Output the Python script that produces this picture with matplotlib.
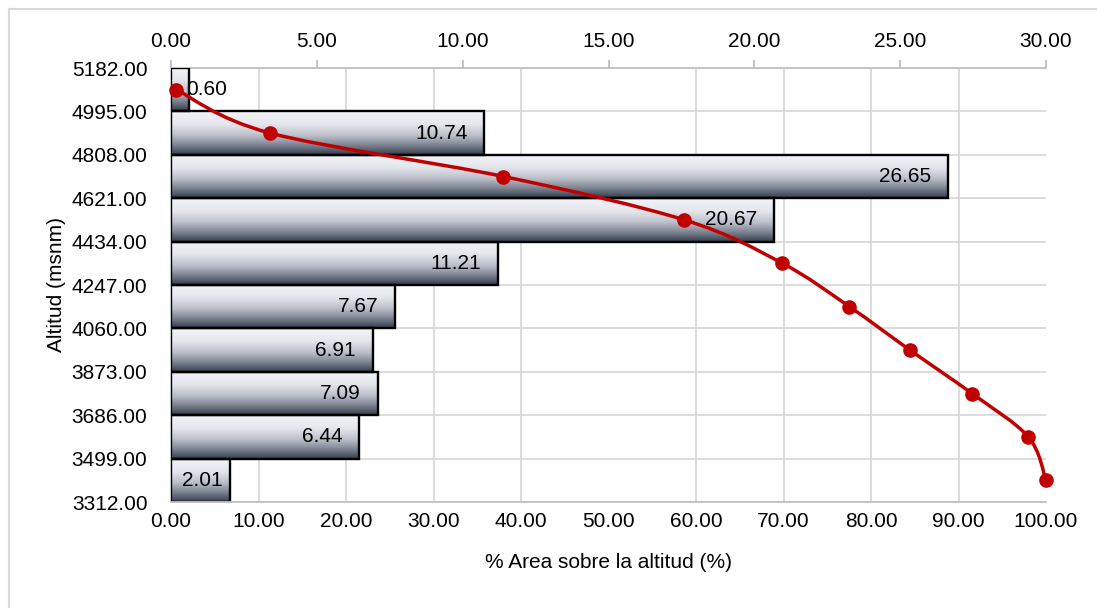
import numpy as np
import matplotlib
matplotlib.use('Agg')
import matplotlib.pyplot as plt
from matplotlib.colors import LinearSegmentedColormap
from matplotlib.path import Path
from matplotlib.patches import PathPatch
from matplotlib.lines import Line2D
from matplotlib.ticker import MultipleLocator, FormatStrFormatter

plt.rcParams['font.family'] = ['Liberation Sans', 'DejaVu Sans']

# altitude class edges (msnm), top to bottom
alt_edges = [5182, 4995, 4808, 4621, 4434, 4247, 4060, 3873, 3686, 3499, 3312]
# % of area in each altitude class
area_pct = [0.60, 10.74, 26.65, 20.67, 11.21, 7.67, 6.91, 7.09, 6.44, 2.01]
# % of area above each class (hypsometric curve)
area_cum = [0.60, 11.34, 37.99, 58.66, 69.87, 77.54, 84.45, 91.54, 97.98, 100.00]

x_pct_ticks = np.arange(0, 31, 5)
x_cum_ticks = np.arange(0, 101, 10)

lo = np.array(alt_edges[1:], dtype=float)
hi = np.array(alt_edges[:-1], dtype=float)
mid = (lo + hi) / 2

W, H = 1097, 608
FS = 15
fig = plt.figure(figsize=(W / 100, H / 100), dpi=100)
ax = fig.add_axes([171 / W, 1 - 502 / H, 875 / W, 434 / H])
ax2 = ax.twiny()

grey = '#bfbfbf'
grid = '#d9d9d9'

# bars on the top (0-30) axis, filled with a vertical steel gradient
cmap = LinearSegmentedColormap.from_list('steel', [
    (0.0, '#f4f5f9'), (0.3, '#e4e6ec'), (0.55, '#bcc0c9'),
    (0.75, '#858b98'), (0.9, '#545c6b'), (1.0, '#343c4a')])
grad = np.linspace(0, 1, 256).reshape(-1, 1)

bars = ax.barh(mid, area_pct, height=hi - lo, left=0, facecolor='none',
               edgecolor='black', linewidth=1.7, zorder=3)
for rect, v, y0, y1 in zip(bars, area_pct, lo, hi):
    im = ax.imshow(grad, cmap=cmap, aspect='auto', extent=[0, v, y0, y1],
                   origin='upper', zorder=2, interpolation='bilinear')
    im.set_clip_path(rect)
ax.set_xlim(0, 30)
ax.set_ylim(alt_edges[-1], alt_edges[0])
ax.set_axisbelow(True)

for v, y in zip(area_pct, mid):
    if v < 1:
        ax.annotate(f'{v:.2f}', (v, y), xytext=(-2, 0), textcoords='offset points',
                    ha='left', va='center', fontsize=FS, zorder=6)
    elif v < 3:
        ax.annotate(f'{v:.2f}', (v, y), xytext=(-5, 0), textcoords='offset points',
                    ha='right', va='center', fontsize=FS, zorder=6)
    else:
        ax.annotate(f'{v:.2f}', (v, y), xytext=(-12, 0), textcoords='offset points',
                    ha='right', va='center', fontsize=FS, zorder=6)

ax.xaxis.tick_top()
ax.set_xticks(x_pct_ticks)
ax.xaxis.set_major_formatter(FormatStrFormatter('%.2f'))
ax.xaxis.set_minor_locator(MultipleLocator(3))
ax.tick_params(axis='x', which='major', direction='out', length=6, color=grey,
               width=1.3, labelsize=FS, pad=6, top=True, bottom=False,
               labeltop=True, labelbottom=False)
ax.tick_params(axis='x', which='minor', length=0, top=False, bottom=False)
ax.grid(axis='x', which='minor', color=grid, linewidth=1.3)
ax.grid(axis='x', which='major', visible=False)

ax.set_yticks(alt_edges)
ax.yaxis.set_major_formatter(FormatStrFormatter('%.2f'))
ax.tick_params(axis='y', length=0, labelsize=FS, pad=17)
ax.grid(axis='y', color=grid, linewidth=1.3)
ax.set_ylabel('Altitud (msnm)', fontsize=FS, labelpad=4)

for s in ['right', 'bottom']:
    ax.spines[s].set_visible(False)
for s in ['top', 'left']:
    ax.spines[s].set_color(grey)
    ax.spines[s].set_linewidth(1.3)

# hypsometric curve on the bottom (0-100) axis
ax2.set_xlim(0, 100)
ax2.set_ylim(alt_edges[-1], alt_edges[0])
ax2.patch.set_visible(False)
ax2.xaxis.tick_bottom()
ax2.xaxis.set_label_position('bottom')
ax2.set_xticks(x_cum_ticks)
ax2.xaxis.set_major_formatter(FormatStrFormatter('%.2f'))
ax2.tick_params(axis='x', length=0, labelsize=FS, pad=7, top=False,
                labeltop=False, bottom=True, labelbottom=True)
ax2.set_xlabel('% Area sobre la altitud (%)', fontsize=FS, labelpad=16)
for s in ['top', 'right', 'left']:
    ax2.spines[s].set_visible(False)
ax2.spines['bottom'].set_color(grey)
ax2.spines['bottom'].set_linewidth(1.3)

# smoothed line: Catmull-Rom segments as cubic Beziers, built in pixel space
px = np.array(area_cum) / 100 * 875
py = (np.array(mid) - alt_edges[-1]) / (alt_edges[0] - alt_edges[-1]) * 434
pts = np.column_stack([px, py])
ext = np.vstack([pts[0], pts, pts[-1]])
verts = [pts[0]]
codes = [Path.MOVETO]
for i in range(len(pts) - 1):
    p0, p1, p2, p3 = ext[i], ext[i + 1], ext[i + 2], ext[i + 3]
    c1 = p1 + (p2 - p0) / 6
    c2 = p2 - (p3 - p1) / 6
    verts += [c1, c2, p2]
    codes += [Path.CURVE4] * 3
verts = np.array(verts)
verts[:, 0] = verts[:, 0] / 875 * 100
verts[:, 1] = verts[:, 1] / 434 * (alt_edges[0] - alt_edges[-1]) + alt_edges[-1]
ax2.add_patch(PathPatch(Path(verts, codes), facecolor='none', edgecolor='#c00000',
                        linewidth=2.5, zorder=4, capstyle='round'))
ax2.plot(area_cum, mid, linestyle='none', marker='o', markersize=9.5,
         color='#c00000', zorder=5, clip_on=False)

# chart-area frame
fig.add_artist(Line2D([8.5 / W, 8.5 / W], [0, 1 - 8.5 / H], color=grid, lw=1.5))
fig.add_artist(Line2D([8.5 / W, 1], [1 - 8.5 / H, 1 - 8.5 / H], color=grid, lw=1.5))

fig.savefig('out.png', dpi=100)
